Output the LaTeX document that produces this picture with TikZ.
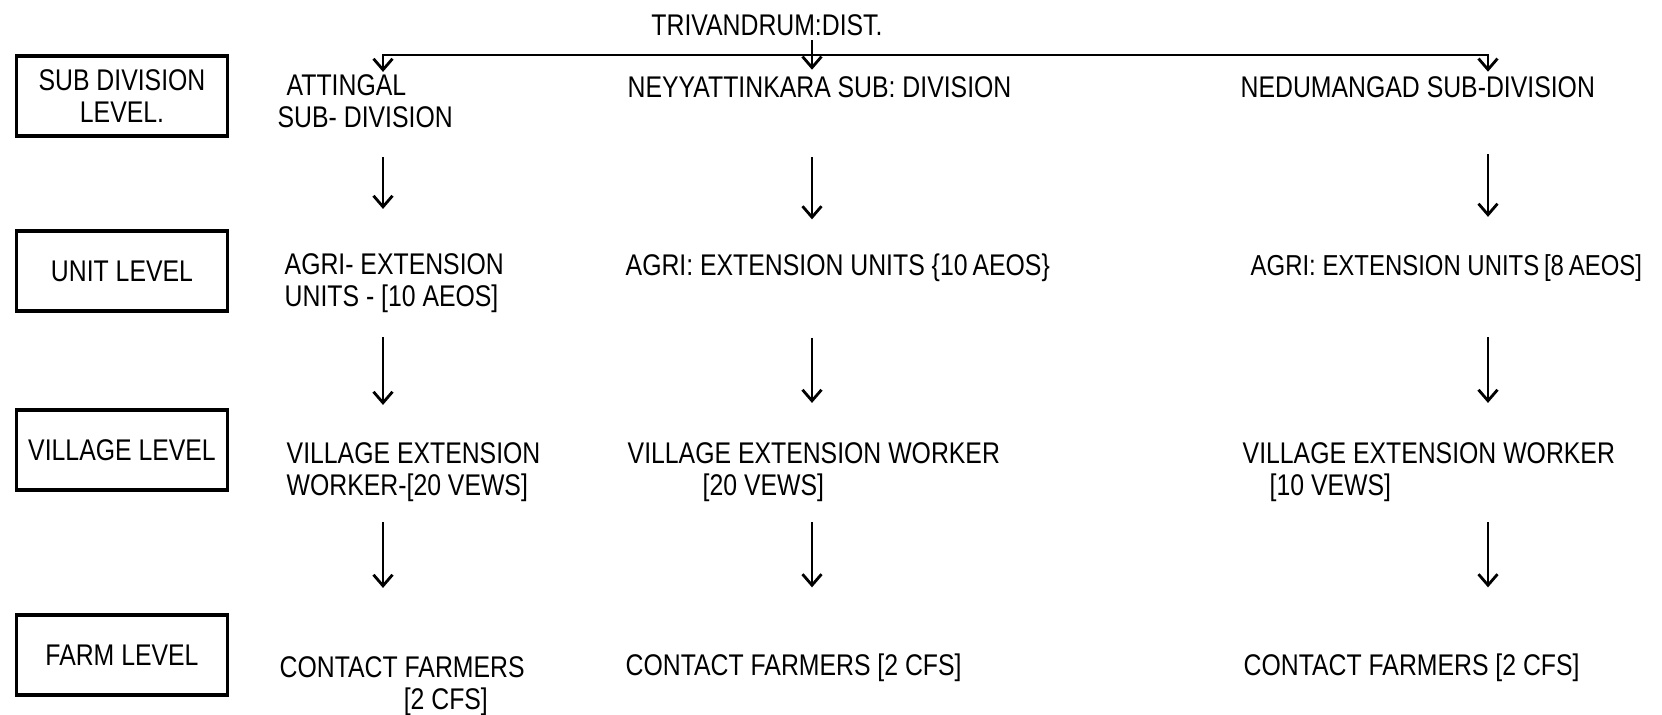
\documentclass[tikz,border=0pt]{standalone}
\usepackage{fontspec}
\setmainfont{Liberation Sans}[FakeStretch=0.83]
\usetikzlibrary{arrows.meta,calc}

\begin{document}
\begin{tikzpicture}[x=0.01cm, y=-0.01cm,
        lvl/.style={draw, line width=0.9pt, minimum width=2.11cm, minimum height=0.8cm, align=center, inner sep=1pt, font=\fontsize{8.5}{9}\selectfont},
        unit/.style={anchor=west, align=left, inner sep=0pt, font=\fontsize{8.5}{9}\selectfont},
        arr/.style={-{Straight Barb[length=1.1mm, width=1.9mm]}, line width=0.8pt},
        barr/.style={arr, {Straight Barb[length=1.1mm, width=1.9mm]}-{Straight Barb[length=1.1mm, width=1.9mm]}}]
      \useasboundingbox (0,0) rectangle (1662,714);
      % level boxes
      \foreach \y/\name/\txt in {96/sdl/SUB DIVISION\\ LEVEL., 271/unl/UNIT LEVEL, 450/vil/VILLAGE LEVEL, 655/fml/FARM LEVEL}
        \node[lvl] (\name) at (122,\y) {\txt};
      \coordinate (c1) at (383,0);
      \coordinate (c2) at (812,0);
      \coordinate (c3) at (1488,0);
      \coordinate (bus) at (812,55);
      \node[unit, anchor=center] (tri) at (767,25) {TRIVANDRUM:DIST.};
      % sub divisions
      \node[unit] (att) at (277,101) {\hspace*{0.09cm}ATTINGAL\\SUB- DIVISION};
      \node[unit] (nya) at (627,87) {NEYYATTINKARA SUB: DIVISION};
      \node[unit] (ned) at (1240,87) {NEDUMANGAD SUB-DIVISION};
      % units
      \node[unit] (agA) at (284,283) {AGRI- EXTENSION\\UNITS - [10 AEOS]};
      \node[unit] (agB) at (625,268) {AGRI: EXTENSION UNITS \{10\,AEOS\}};
      \node[unit, font=\fontsize{8.2}{9}\selectfont] (agC) at (1250,268) {AGRI: EXTENSION UNITS\,[8\,AEOS]};
      % villages
      \node[unit] (veA) at (286,472) {VILLAGE EXTENSION\\WORKER-[20 VEWS]};
      \node[unit] (veB) at (627,472) {VILLAGE EXTENSION WORKER\\\hspace*{0.75cm}[20 VEWS]};
      \node[unit] (veC) at (1242,472) {VILLAGE EXTENSION WORKER\\\hspace*{0.27cm}[10 VEWS]};
      % farms
      \node[unit] (cfA) at (279,686) {CONTACT FARMERS\\\hspace*{1.24cm}[2 CFS]};
      \node[unit] (cfB) at (625,668) {CONTACT FARMERS [2 CFS]};
      \node[unit] (cfC) at (1243,668) {CONTACT FARMERS [2 CFS]};
      \draw[arr, shorten <=0.04cm, shorten >=0.06cm] (tri.south -| c2) -- (nya.north -| c2);
      \draw[barr, shorten <=0.02cm, shorten >=0.04cm] (att.north -| c1) |- (bus) -| (ned.north -| c3);
      \foreach \c/\a/\b/\s/\e in {c1/att/agA/0.29/0.44, c2/nya/agB/0.59/0.34, c3/ned/agC/0.56/0.37,
          c1/agA/veA/0.24/0.37, c2/agB/veB/0.55/0.39, c3/agC/veC/0.55/0.39,
          c1/veA/cfA/0.20/0.68, c2/veB/cfB/0.20/0.66, c3/veC/cfC/0.20/0.66}
        \draw[arr, shorten <=\s cm, shorten >=\e cm] (\a.south -| \c) -- (\b.north -| \c);
    \end{tikzpicture}
\end{document}
